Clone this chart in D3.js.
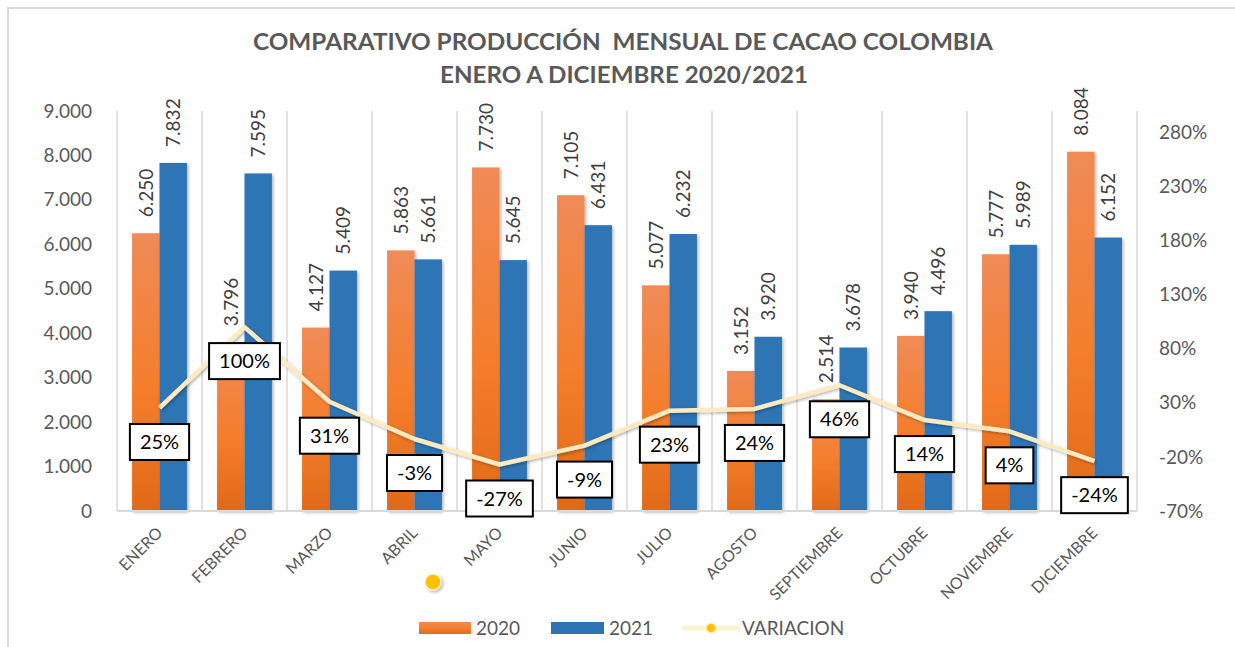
<!DOCTYPE html>
<html>
<head>
<meta charset="utf-8">
<script src="https://cdn.jsdelivr.net/npm/d3@7"></script>
<style>
  body { margin: 0; background: #fff; }
  svg { display: block; font-family: Lato, "Open Sans", sans-serif; }
</style>
</head>
<body>
<div id="chart"></div>
<script>
const months = ["ENERO", "FEBRERO", "MARZO", "ABRIL", "MAYO", "JUNIO", "JULIO",
  "AGOSTO", "SEPTIEMBRE", "OCTUBRE", "NOVIEMBRE", "DICIEMBRE"];
const prod2020 = [6250, 3796, 4127, 5863, 7730, 7105, 5077, 3152, 2514, 3940, 5777, 8084];
const prod2021 = [7832, 7595, 5409, 5661, 5645, 6431, 6232, 3920, 3678, 4496, 5989, 6152];
const variacion = [0.253, 1.001, 0.311, -0.034, -0.270, -0.095, 0.228, 0.244, 0.463, 0.141, 0.037, -0.239];
const leftTicks = [0, 1000, 2000, 3000, 4000, 5000, 6000, 7000, 8000, 9000];
const rightTicks = [-0.7, -0.2, 0.3, 0.8, 1.3, 1.8, 2.3, 2.8];

const W = 1235, H = 647;
const plot = {left: 117, right: 1137, top: 111, bottom: 511};

const svg = d3.select("#chart").append("svg")
    .attr("width", W)
    .attr("height", H);

const defs = svg.append("defs");
const grad = defs.append("linearGradient")
    .attr("id", "orangeGrad").attr("x1", 0).attr("y1", 0).attr("x2", 0).attr("y2", 1);
grad.append("stop").attr("offset", "0%").attr("stop-color", "#EF8B57");
grad.append("stop").attr("offset", "55%").attr("stop-color", "#F47E2C");
grad.append("stop").attr("offset", "100%").attr("stop-color", "#E16A18");

const shadow = defs.append("filter").attr("id", "shadow")
    .attr("x", "-20%").attr("y", "-20%").attr("width", "150%").attr("height", "150%");
shadow.append("feDropShadow").attr("dx", 1.5).attr("dy", 1.5)
    .attr("stdDeviation", 1.5).attr("flood-color", "#000").attr("flood-opacity", 0.3);

// outer border
svg.append("rect")
    .attr("x", 8).attr("y", 8).attr("width", 1240).attr("height", 660)
    .attr("fill", "none").attr("stroke", "#d9d9d9").attr("stroke-width", 2);

// title
const title = svg.append("text")
    .attr("text-anchor", "middle")
    .attr("fill", "#595959")
    .attr("font-weight", "bold")
    .attr("font-size", 23)
    .style("white-space", "pre");
title.append("tspan").attr("x", 623).attr("y", 50)
    .attr("textLength", 740).attr("lengthAdjust", "spacingAndGlyphs")
    .text("COMPARATIVO PRODUCCIÓN\u00A0 MENSUAL DE CACAO COLOMBIA");
title.append("tspan").attr("x", 624).attr("y", 83)
    .attr("textLength", 368).attr("lengthAdjust", "spacingAndGlyphs")
    .text("ENERO A DICIEMBRE 2020/2021");

// scales
const x = d3.scaleBand()
    .domain(months)
    .range([plot.left, plot.right])
    .paddingInner(0)
    .paddingOuter(0);

const xs = d3.scaleBand()
    .domain(["2020", "2021"])
    .range([0, x.bandwidth()])
    .paddingOuter(0.55)
    .paddingInner(0);

const y = d3.scaleLinear().domain([0, 9000]).range([plot.bottom, plot.top]);
const y2 = d3.scaleLinear().domain([-0.7, 3.0]).range([plot.bottom, plot.top]);

// vertical gridlines at category boundaries
const bounds = months.map(m => x(m)).concat([x(months[months.length - 1]) + x.bandwidth()]);
svg.append("g").selectAll("line")
    .data(bounds)
    .enter().append("line")
    .attr("x1", d => d).attr("x2", d => d)
    .attr("y1", plot.top).attr("y2", plot.bottom)
    .attr("stroke", "#d9d9d9").attr("stroke-width", 1.5);

// left axis
const fmtThousands = d3.formatLocale({decimal: ",", thousands: ".", grouping: [3], currency: ["", ""]}).format(",d");
const leftAxis = svg.append("g")
    .attr("transform", `translate(${plot.left - 22},0)`)
    .call(d3.axisLeft(y).tickValues(leftTicks).tickSize(0).tickFormat(fmtThousands));
leftAxis.select(".domain").remove();
leftAxis.selectAll("text")
    .attr("fill", "#595959").attr("font-size", 19).attr("font-family", "Lato, sans-serif");

// right axis
const rightAxis = svg.append("g")
    .attr("transform", `translate(${plot.right + 19},0)`)
    .call(d3.axisRight(y2).tickValues(rightTicks).tickSize(0).tickFormat(d => Math.round(d * 100) + "%"));
rightAxis.select(".domain").remove();
rightAxis.selectAll("text")
    .attr("fill", "#595959").attr("font-size", 19).attr("font-family", "Lato, sans-serif");

// bars
const rows = months.map((m, i) => ({month: m, v2020: prod2020[i], v2021: prod2021[i], varc: variacion[i]}));
const groups = svg.append("g").selectAll("g")
    .data(rows)
    .enter().append("g")
    .attr("transform", d => `translate(${x(d.month)},0)`);

const seriesDefs = [
  {key: "2020", field: "v2020", fill: "url(#orangeGrad)"},
  {key: "2021", field: "v2021", fill: "#2E74B5"}
];

seriesDefs.forEach(s => {
  groups.append("rect")
      .attr("x", xs(s.key))
      .attr("y", d => y(d[s.field]))
      .attr("width", xs.bandwidth())
      .attr("height", d => plot.bottom - y(d[s.field]))
      .attr("fill", s.fill)
      .attr("filter", "url(#shadow)");
});

// bottom axis line
svg.append("line")
    .attr("x1", plot.left).attr("x2", plot.right)
    .attr("y1", plot.bottom).attr("y2", plot.bottom)
    .attr("stroke", "#d9d9d9").attr("stroke-width", 2);

// bar value labels (rotated)
seriesDefs.forEach(s => {
  groups.append("text")
      .attr("transform", d => `translate(${xs(s.key) + xs.bandwidth() / 2 + 7},${y(d[s.field]) - 16}) rotate(-90)`)
      .attr("fill", "#404040")
      .attr("font-size", 19)
      .text(d => fmtThousands(d[s.field]));
});

// x axis labels
svg.append("g").selectAll("text")
    .data(months)
    .enter().append("text")
    .attr("transform", d => `translate(${x(d) + x.bandwidth() / 2 + 4},${plot.bottom + 23}) rotate(-45)`)
    .attr("text-anchor", "end")
    .attr("fill", "#595959")
    .attr("font-size", 16)
    .text(d => d);

// variation line
const line = d3.line()
    .x(d => x(d.month) + x.bandwidth() / 2)
    .y(d => y2(d.varc));

svg.append("path")
    .datum(rows)
    .attr("d", line)
    .attr("fill", "none")
    .attr("stroke", "#FCEAC2")
    .attr("stroke-width", 4.5)
    .attr("stroke-linejoin", "round")
    .attr("filter", "url(#shadow)");

// variation labels in boxes
const varLabels = svg.append("g").selectAll("g")
    .data(rows)
    .enter().append("g")
    .attr("transform", d => `translate(${x(d.month) + x.bandwidth() / 2},${y2(d.varc) + 34})`);

varLabels.append("text")
    .attr("text-anchor", "middle")
    .attr("dy", "0.35em")
    .attr("fill", "#000")
    .attr("font-size", 20)
    .text(d => Math.round(d.varc * 100) + "%");

varLabels.each(function() {
  const g = d3.select(this);
  const bb = g.select("text").node().getBBox();
  g.insert("rect", "text")
      .attr("x", bb.x - 10)
      .attr("y", -18)
      .attr("width", bb.width + 20)
      .attr("height", 36)
      .attr("fill", "#fff")
      .attr("stroke", "#000")
      .attr("stroke-width", 2);
});

// stray marker
svg.append("circle")
    .attr("cx", 433).attr("cy", 582).attr("r", 8)
    .attr("fill", "#FFC000")
    .attr("stroke", "#FFF2CC").attr("stroke-width", 1.5)
    .attr("filter", "url(#shadow)");

// legend
const legend = svg.append("g").attr("font-size", 19).attr("fill", "#595959");
legend.append("rect").attr("x", 419).attr("y", 622).attr("width", 52).attr("height", 12).attr("fill", "url(#orangeGrad)");
legend.append("text").attr("x", 476).attr("y", 635).attr("fill", "#595959").text("2020");
legend.append("rect").attr("x", 551).attr("y", 622).attr("width", 53).attr("height", 12).attr("fill", "#2E74B5");
legend.append("text").attr("x", 609).attr("y", 635).attr("fill", "#595959").text("2021");
legend.append("line").attr("x1", 683).attr("x2", 738).attr("y1", 628).attr("y2", 628)
    .attr("stroke", "#FFF2CC").attr("stroke-width", 5).attr("stroke-linecap", "round");
legend.append("circle").attr("cx", 711).attr("cy", 628).attr("r", 4.5)
    .attr("fill", "#FFC000").attr("stroke", "#FFE699").attr("stroke-width", 1);
legend.append("text").attr("x", 742).attr("y", 635).attr("fill", "#595959").text("VARIACION");
</script>
</body>
</html>
